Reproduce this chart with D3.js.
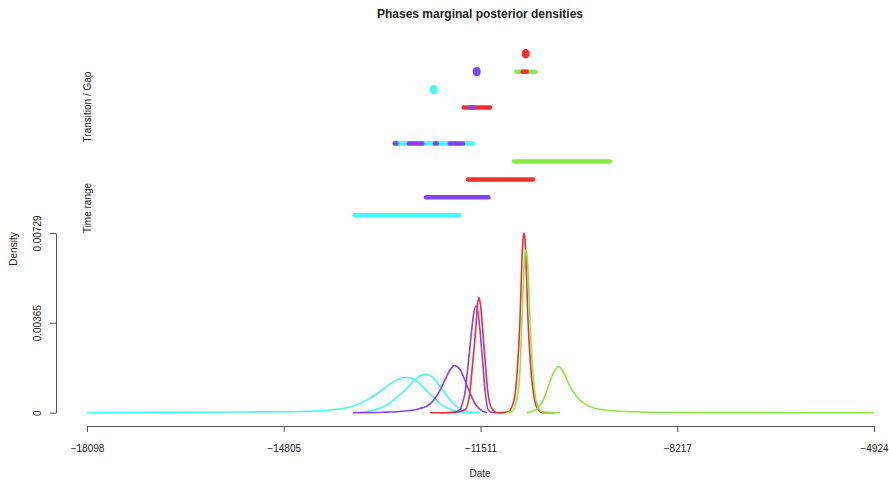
<!DOCTYPE html>
<html>
<head>
<meta charset="utf-8">
<script src="https://cdn.jsdelivr.net/npm/d3@7"></script>
<style>
  body { margin: 0; background: #fff; }
  svg text { font-family: "Liberation Sans", Arial, sans-serif; fill: #222; }
</style>
</head>
<body>
<svg id="chart" width="889" height="481"></svg>
<script>
// phases and colours
var phases = ["Phase 1", "Phase 2", "Phase 3", "Phase 4"];
var phaseColors = ["#44F8F8", "#8244F2", "#F42E2E", "#88EA3E"];

// x axis ticks (dates) and y axis ticks (density)
var xTicks = [-18098, -14805, -11511, -8217, -4924];
var yTicks = [0, 0.00365, 0.00729];

// time range of each phase
var rangeStart = [-13650, -12457, -11754, -10984];
var rangeEnd = [-11838, -11347, -10599, -9310];

// transition / gap rows: [row, phase, start, end]
var transSegments = [
    [4, 0, -12981, -11603],
    [4, 1, -12981, -12881],
    [4, 1, -12742, -12452],
    [4, 1, -12306, -12211],
    [4, 1, -12060, -11771],
    [6, 2, -11826, -11319],
    [6, 1, -11715, -11587],
    [8, 3, -10945, -10560],
    [8, 2, -10838, -10704]
];
// single points: [row, phase, date]
var transDots = [
    [7, 0, -12295],
    [8, 1, -11575],
    [9, 2, -10755]
];
var rowIds = [0, 1, 2, 3, 4, 5, 6, 7, 8, 9];

// marginal densities: begin and end of each phase
var densDates = [
    [-18098, -15370, -14533, -14030, -13696, -13445, -13227, -13026, -12892, -12758, -12624, -12490, -12323, -12156, -11988, -11821, -11603],
    [-13645, -13361, -13110, -12942, -12775, -12641, -12524, -12423, -12323, -12189, -12055, -11921, -11771, -11520],
    [-13645, -13143, -12775, -12524, -12357, -12223, -12089, -12022, -11950, -11871, -11787, -11687, -11587, -11486, -11402],
    [-12189, -11938, -11854, -11813, -11771, -11715, -11658, -11620, -11587, -11553, -11520, -11474, -11431, -11374, -11302, -11185],
    [-12357, -11972, -11771, -11699, -11642, -11592, -11561, -11536, -11511, -11474, -11431, -11386, -11324, -11240, -11101],
    [-11185, -11046, -10950, -10895, -10850, -10817, -10800, -10783, -10766, -10750, -10716, -10671, -10616, -10544, -10460, -10264],
    [-11073, -10989, -10905, -10850, -10817, -10783, -10766, -10750, -10733, -10716, -10683, -10637, -10582, -10487, -10180],
    [-10738, -10570, -10460, -10376, -10293, -10202, -10114, -10013, -9901, -9734, -9511, -9176, -8674, -7837, -6163, -4924]
];
var densValues = [
    [0.000008, 0.00003, 0.00005, 0.00011, 0.00023, 0.00047, 0.00080, 0.00116, 0.00136, 0.00144, 0.00136, 0.00108, 0.00068, 0.00031, 0.00011, 0.00002, 0],
    [0.00001, 0.00007, 0.00027, 0.00056, 0.00092, 0.00125, 0.00149, 0.00157, 0.00145, 0.00108, 0.00063, 0.00027, 0.00007, 0],
    [0, 0.00002, 0.00007, 0.00017, 0.00035, 0.00076, 0.00141, 0.00173, 0.00191, 0.00181, 0.00141, 0.00080, 0.00031, 0.00008, 0],
    [0, 0.00003, 0.00011, 0.00039, 0.00080, 0.00202, 0.00336, 0.00409, 0.00433, 0.00409, 0.00336, 0.00202, 0.00080, 0.00008, 0, 0],
    [0, 0.00001, 0.00011, 0.00065, 0.00200, 0.00335, 0.00437, 0.00467, 0.00437, 0.00335, 0.00200, 0.00079, 0.00018, 0.00001, 0],
    [0, 0.00004, 0.00051, 0.00173, 0.00376, 0.00619, 0.00700, 0.00729, 0.00700, 0.00619, 0.00376, 0.00186, 0.00065, 0.00011, 0, 0],
    [0, 0.00004, 0.00052, 0.00173, 0.00376, 0.00579, 0.00640, 0.00660, 0.00640, 0.00579, 0.00376, 0.00173, 0.00052, 0.00004, 0],
    [0, 0.00014, 0.00052, 0.00106, 0.00160, 0.00187, 0.00160, 0.00106, 0.00065, 0.00031, 0.00014, 0.00006, 0.00002, 0.000004, 0, 0]
];
var densPhase = [0, 0, 1, 1, 2, 2, 3, 3];

var svg = d3.select("#chart");

var x = d3.scaleLinear().domain([-18098, -4924]).range([87, 874]);
var y = d3.scaleLinear().domain([0, 0.00729]).range([412.7, 233]);
var row = d3.scalePoint().domain(rowIds).range([215.3, 53.7]);

// title
svg.append("text")
    .attr("x", 480).attr("y", 18)
    .attr("text-anchor", "middle")
    .style("font-size", "12px").style("font-weight", "bold")
    .text("Phases marginal posterior densities");

// x axis
var xAxis = svg.append("g")
    .attr("transform", "translate(0,426)")
    .call(d3.axisBottom(x).tickValues(xTicks).tickFormat(d3.format("d")).tickSize(6).tickPadding(13));
xAxis.select(".domain").attr("stroke", "#555");
xAxis.selectAll(".tick line").attr("stroke", "#555");
xAxis.selectAll("text").style("font-size", "10px").attr("fill", "#222");

svg.append("text")
    .attr("x", 480).attr("y", 477)
    .attr("text-anchor", "middle")
    .style("font-size", "10px")
    .text("Date");

// y axis
var yAxis = svg.append("g")
    .attr("transform", "translate(56,0)")
    .call(d3.axisLeft(y).tickValues(yTicks).tickFormat(function(d) { return d === 0 ? "0" : d3.format(".5f")(d); }).tickSize(6).tickSizeOuter(0));
yAxis.select(".domain").attr("stroke", "#555");
yAxis.selectAll(".tick line").attr("stroke", "#555");
yAxis.selectAll("text")
    .style("font-size", "10px").attr("fill", "#222")
    .attr("text-anchor", "middle")
    .attr("x", 0).attr("y", 0)
    .attr("dx", 0).attr("dy", 0)
    .attr("transform", "translate(-18,0) rotate(-90)")
    .attr("dominant-baseline", "middle");

svg.append("text")
    .attr("transform", "translate(17,249) rotate(-90)")
    .attr("text-anchor", "middle")
    .style("font-size", "10px")
    .text("Density");

svg.append("text")
    .attr("transform", "translate(91,208) rotate(-90)")
    .attr("text-anchor", "middle")
    .style("font-size", "10px")
    .text("Time range");

svg.append("text")
    .attr("transform", "translate(91,107) rotate(-90)")
    .attr("text-anchor", "middle")
    .style("font-size", "10px")
    .text("Transition / Gap");

// density curves
var line = d3.line()
    .x(function(d) { return x(d[0]); })
    .y(function(d) { return y(d[1]); })
    .curve(d3.curveMonotoneX);

svg.append("g")
    .attr("class", "densities")
    .selectAll("path")
    .data(densDates.map(function(dates, i) {
        return dates.map(function(dt, j) { return [dt, densValues[i][j]]; });
    }))
    .enter().append("path")
    .attr("d", line)
    .attr("fill", "none")
    .attr("stroke", function(d, i) { return phaseColors[densPhase[i]]; })
    .attr("stroke-width", 1.6);

// time ranges
svg.append("g")
    .attr("class", "ranges")
    .selectAll("line")
    .data(phases)
    .enter().append("line")
    .attr("x1", function(d, i) { return x(rangeStart[i]) + 2; })
    .attr("x2", function(d, i) { return x(rangeEnd[i]) - 2; })
    .attr("y1", function(d, i) { return row(i); })
    .attr("y2", function(d, i) { return row(i); })
    .attr("stroke", function(d, i) { return phaseColors[i]; })
    .attr("stroke-width", 4.5)
    .attr("stroke-linecap", "round");

// transitions and gaps
svg.append("g")
    .attr("class", "transitions")
    .selectAll("line")
    .data(transSegments)
    .enter().append("line")
    .attr("x1", function(d) { return x(d[2]) + 2; })
    .attr("x2", function(d) { return x(d[3]) - 2; })
    .attr("y1", function(d) { return row(d[0]); })
    .attr("y2", function(d) { return row(d[0]); })
    .attr("stroke", function(d) { return phaseColors[d[1]]; })
    .attr("stroke-width", 4.5)
    .attr("stroke-linecap", "round");

svg.append("g")
    .attr("class", "dots")
    .selectAll("ellipse")
    .data(transDots)
    .enter().append("ellipse")
    .attr("cx", function(d) { return x(d[2]); })
    .attr("cy", function(d) { return row(d[0]); })
    .attr("rx", 4)
    .attr("ry", 4.7)
    .attr("fill", function(d) { return phaseColors[d[1]]; });
</script>
</body>
</html>
